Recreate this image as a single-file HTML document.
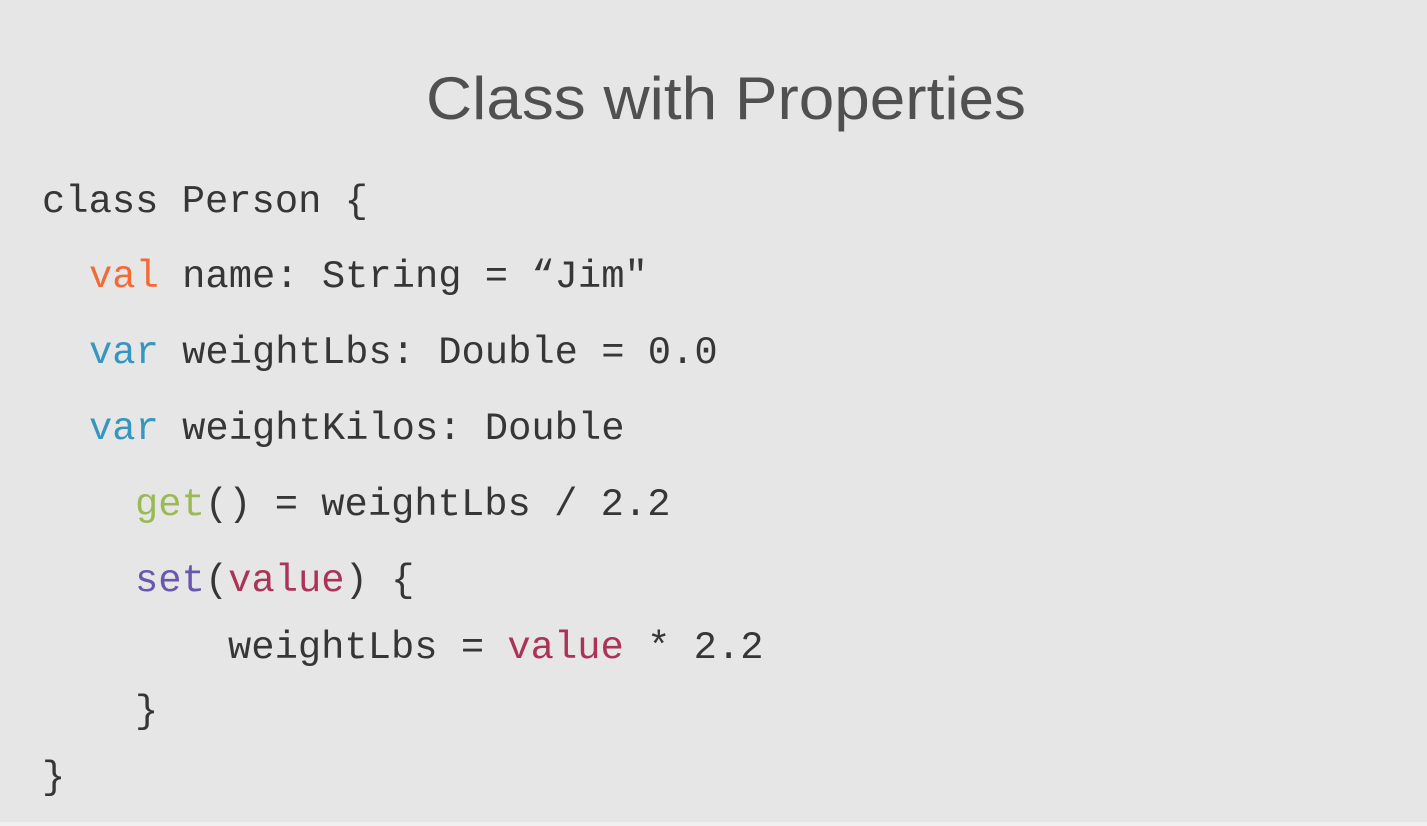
<!DOCTYPE html>
<html><head><meta charset="utf-8"><style>
html,body{margin:0;padding:0;background:#e6e6e6;}
svg{display:block}
.c{font-family:"Liberation Mono",monospace;font-size:38.8px;fill:#363636;}
.o{fill:#f26a36}.b{fill:#3596c0}.g{fill:#9cb957}.p{fill:#6857ad}.r{fill:#ac3358}
</style></head><body>
<svg width="1427" height="826" viewBox="0 0 1427 826" xmlns="http://www.w3.org/2000/svg">
<rect width="1427" height="826" fill="#e6e6e6"/>
<rect y="822" width="1427" height="4" fill="#f0f0f0"/>
<text x="726" y="119" text-anchor="middle" textLength="600" lengthAdjust="spacingAndGlyphs" style="font-family:'Liberation Sans',sans-serif;font-size:60px;fill:#505050">Class with Properties</text>
<g class="c" xml:space="preserve">
<text x="42" y="212">class Person {</text>
<text x="89" y="287"><tspan class="o">val</tspan> name: String = “Jim"</text>
<text x="89" y="363"><tspan class="b">var</tspan> weightLbs: Double = 0.0</text>
<text x="89" y="439"><tspan class="b">var</tspan> weightKilos: Double</text>
<text x="135" y="515"><tspan class="g">get</tspan>() = weightLbs / 2.2</text>
<text x="135" y="591"><tspan class="p">set</tspan>(<tspan class="r">value</tspan>) {</text>
<text x="228" y="658">weightLbs = <tspan class="r">value</tspan> * 2.2</text>
<text x="135" y="722">}</text>
<text x="42" y="788">}</text>
</g>
</svg>
</body></html>
